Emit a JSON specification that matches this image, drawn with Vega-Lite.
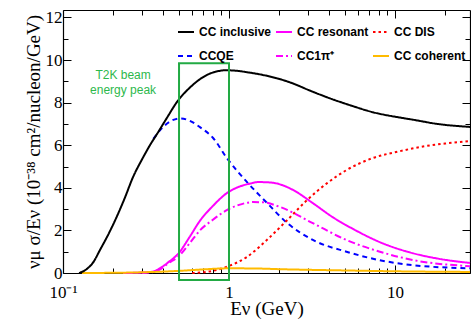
{
  "$schema": "https://vega.github.io/schema/vega-lite/v6.json",
  "width": 407,
  "height": 263,
  "autosize": {"type": "none"},
  "padding": {"left": 63, "top": 10, "right": 1, "bottom": 53},
  "background": "white",
  "config": {
    "view": {"stroke": null},
    "axis": {
      "domainColor": "black", "domainWidth": 1.2, "tickColor": "black", "tickWidth": 1,
      "labelFont": "Liberation Serif", "labelFontSize": 17, "labelColor": "black",
      "titleFont": "Liberation Serif", "titleFontSize": 19, "titleFontWeight": "normal", "titleColor": "black",
      "grid": false
    }
  },
  "datasets": {
    "curves": [
      {"series": "CCQE", "E": 0.35, "v": 6.3},
      {"series": "CCQE", "E": 0.4, "v": 6.85},
      {"series": "CCQE", "E": 0.45, "v": 7.15},
      {"series": "CCQE", "E": 0.507, "v": 7.26},
      {"series": "CCQE", "E": 0.58, "v": 7.15},
      {"series": "CCQE", "E": 0.668, "v": 6.85},
      {"series": "CCQE", "E": 0.8, "v": 6.35},
      {"series": "CCQE", "E": 0.97, "v": 5.4},
      {"series": "CCQE", "E": 1.28, "v": 4.28},
      {"series": "CCQE", "E": 1.69, "v": 3.3},
      {"series": "CCQE", "E": 2.24, "v": 2.35},
      {"series": "CCQE", "E": 3.2, "v": 1.55},
      {"series": "CCQE", "E": 5.1, "v": 1.0},
      {"series": "CCQE", "E": 8.1, "v": 0.6},
      {"series": "CCQE", "E": 12.8, "v": 0.37},
      {"series": "CCQE", "E": 28.3, "v": 0.22},

      {"series": "CC1π⁺", "E": 0.3, "v": 0},
      {"series": "CC1π⁺", "E": 0.35, "v": 0.05},
      {"series": "CC1π⁺", "E": 0.38, "v": 0.15},
      {"series": "CC1π⁺", "E": 0.43, "v": 0.45},
      {"series": "CC1π⁺", "E": 0.5, "v": 0.8},
      {"series": "CC1π⁺", "E": 0.58, "v": 1.4},
      {"series": "CC1π⁺", "E": 0.668, "v": 2.0},
      {"series": "CC1π⁺", "E": 0.8, "v": 2.5},
      {"series": "CC1π⁺", "E": 0.97, "v": 2.95},
      {"series": "CC1π⁺", "E": 1.15, "v": 3.2},
      {"series": "CC1π⁺", "E": 1.4, "v": 3.33},
      {"series": "CC1π⁺", "E": 1.6, "v": 3.32},
      {"series": "CC1π⁺", "E": 2.03, "v": 3.1},
      {"series": "CC1π⁺", "E": 3.2, "v": 2.34},
      {"series": "CC1π⁺", "E": 5.1, "v": 1.55},
      {"series": "CC1π⁺", "E": 8.1, "v": 1.0},
      {"series": "CC1π⁺", "E": 12.8, "v": 0.61},
      {"series": "CC1π⁺", "E": 28.3, "v": 0.32},

      {"series": "CC resonant", "E": 0.23, "v": 0},
      {"series": "CC resonant", "E": 0.3, "v": 0.02},
      {"series": "CC resonant", "E": 0.35, "v": 0.07},
      {"series": "CC resonant", "E": 0.38, "v": 0.2},
      {"series": "CC resonant", "E": 0.43, "v": 0.5},
      {"series": "CC resonant", "E": 0.5, "v": 0.95},
      {"series": "CC resonant", "E": 0.58, "v": 1.7},
      {"series": "CC resonant", "E": 0.668, "v": 2.45},
      {"series": "CC resonant", "E": 0.8, "v": 3.15},
      {"series": "CC resonant", "E": 0.97, "v": 3.75},
      {"series": "CC resonant", "E": 1.15, "v": 4.05},
      {"series": "CC resonant", "E": 1.34, "v": 4.2},
      {"series": "CC resonant", "E": 1.5, "v": 4.27},
      {"series": "CC resonant", "E": 1.7, "v": 4.26},
      {"series": "CC resonant", "E": 1.95, "v": 4.2},
      {"series": "CC resonant", "E": 2.43, "v": 3.9},
      {"series": "CC resonant", "E": 3.2, "v": 3.28},
      {"series": "CC resonant", "E": 4.2, "v": 2.63},
      {"series": "CC resonant", "E": 5.8, "v": 2.0},
      {"series": "CC resonant", "E": 8.1, "v": 1.45},
      {"series": "CC resonant", "E": 12.8, "v": 0.93},
      {"series": "CC resonant", "E": 18, "v": 0.68},
      {"series": "CC resonant", "E": 28.3, "v": 0.47},

      {"series": "CC DIS", "E": 0.6, "v": 0},
      {"series": "CC DIS", "E": 0.73, "v": 0.05},
      {"series": "CC DIS", "E": 0.85, "v": 0.15},
      {"series": "CC DIS", "E": 1.0, "v": 0.33},
      {"series": "CC DIS", "E": 1.28, "v": 0.75},
      {"series": "CC DIS", "E": 1.69, "v": 1.55},
      {"series": "CC DIS", "E": 2.24, "v": 2.48},
      {"series": "CC DIS", "E": 2.95, "v": 3.42},
      {"series": "CC DIS", "E": 3.9, "v": 4.22},
      {"series": "CC DIS", "E": 5.1, "v": 4.83},
      {"series": "CC DIS", "E": 7.36, "v": 5.4},
      {"series": "CC DIS", "E": 10.7, "v": 5.72},
      {"series": "CC DIS", "E": 15, "v": 5.95},
      {"series": "CC DIS", "E": 20, "v": 6.08},
      {"series": "CC DIS", "E": 28.3, "v": 6.2},

      {"series": "CC coherent", "E": 0.13, "v": 0},
      {"series": "CC coherent", "E": 0.25, "v": 0.02},
      {"series": "CC coherent", "E": 0.35, "v": 0.05},
      {"series": "CC coherent", "E": 0.5, "v": 0.1},
      {"series": "CC coherent", "E": 0.7, "v": 0.17},
      {"series": "CC coherent", "E": 1.0, "v": 0.22},
      {"series": "CC coherent", "E": 1.5, "v": 0.21},
      {"series": "CC coherent", "E": 2.0, "v": 0.18},
      {"series": "CC coherent", "E": 3.0, "v": 0.15},
      {"series": "CC coherent", "E": 5.0, "v": 0.12},
      {"series": "CC coherent", "E": 10, "v": 0.08},
      {"series": "CC coherent", "E": 28.3, "v": 0.05},

      {"series": "CC inclusive", "E": 0.125, "v": 0},
      {"series": "CC inclusive", "E": 0.137, "v": 0.15},
      {"series": "CC inclusive", "E": 0.152, "v": 0.5},
      {"series": "CC inclusive", "E": 0.167, "v": 1.08},
      {"series": "CC inclusive", "E": 0.19, "v": 1.9},
      {"series": "CC inclusive", "E": 0.211, "v": 2.65},
      {"series": "CC inclusive", "E": 0.235, "v": 3.5},
      {"series": "CC inclusive", "E": 0.264, "v": 4.5},
      {"series": "CC inclusive", "E": 0.3, "v": 5.35},
      {"series": "CC inclusive", "E": 0.334, "v": 6.0},
      {"series": "CC inclusive", "E": 0.37, "v": 6.55},
      {"series": "CC inclusive", "E": 0.42, "v": 7.25},
      {"series": "CC inclusive", "E": 0.493, "v": 8.1},
      {"series": "CC inclusive", "E": 0.58, "v": 8.7},
      {"series": "CC inclusive", "E": 0.668, "v": 9.1},
      {"series": "CC inclusive", "E": 0.76, "v": 9.35},
      {"series": "CC inclusive", "E": 0.85, "v": 9.47},
      {"series": "CC inclusive", "E": 0.95, "v": 9.52},
      {"series": "CC inclusive", "E": 1.1, "v": 9.5},
      {"series": "CC inclusive", "E": 1.28, "v": 9.43},
      {"series": "CC inclusive", "E": 1.6, "v": 9.3},
      {"series": "CC inclusive", "E": 1.95, "v": 9.14},
      {"series": "CC inclusive", "E": 2.43, "v": 8.9},
      {"series": "CC inclusive", "E": 3.0, "v": 8.6},
      {"series": "CC inclusive", "E": 4.06, "v": 8.2},
      {"series": "CC inclusive", "E": 5.5, "v": 7.85},
      {"series": "CC inclusive", "E": 7.36, "v": 7.55},
      {"series": "CC inclusive", "E": 10.7, "v": 7.3},
      {"series": "CC inclusive", "E": 12.8, "v": 7.2},
      {"series": "CC inclusive", "E": 18, "v": 7.0},
      {"series": "CC inclusive", "E": 28.3, "v": 6.86}
    ],
    "box": [{"x0": 0.5, "x1": 1.0, "y0": -0.33, "y1": 9.85}],
    "notes": [
      {"E": 0.23, "v": 9.28, "t": "T2K beam"},
      {"E": 0.23, "v": 8.58, "t": "energy peak"}
    ]
  },
  "layer": [
    {
      "data": {"name": "curves"},
      "mark": {"type": "line", "strokeWidth": 2, "interpolate": "monotone"},
      "encoding": {
        "x": {
          "field": "E", "type": "quantitative",
          "scale": {"type": "log", "domain": [0.1, 28.3], "nice": false},
          "axis": {
            "orient": "bottom", "title": "Eν (GeV)",
            "values": [0.1, 0.2, 0.3, 0.4, 0.5, 0.6, 0.7, 0.8, 0.9, 1, 2, 3, 4, 5, 6, 7, 8, 9, 10, 20],
            "labelExpr": "datum.value == 0.1 ? '10⁻¹' : (datum.value == 1 ? '1' : (datum.value == 10 ? '10' : ''))",
            "tickSize": {"condition": {"test": "datum.value == 0.1 || datum.value == 1 || datum.value == 10", "value": -8}, "value": -5},
            "labelPadding": 19, "labelFlush": false, "labelOverlap": false,
            "titleY": 41, "titleBaseline": "alphabetic"
          }
        },
        "y": {
          "field": "v", "type": "quantitative",
          "scale": {"domain": [0, 12.35], "nice": false, "zero": false},
          "axis": {
            "orient": "left", "title": "νμ σ/Eν (10⁻³⁸ cm²/nucleon/GeV)",
            "values": [0, 1, 2, 3, 4, 5, 6, 7, 8, 9, 10, 11, 12],
            "labelExpr": "datum.value % 2 == 0 ? datum.label : ''",
            "tickSize": {"condition": {"test": "datum.value % 2 == 0", "value": -8}, "value": -5},
            "labelPadding": 9, "labelOverlap": false,
            "titlePadding": 2
          }
        },
        "color": {
          "field": "series", "type": "nominal",
          "scale": {
            "domain": ["CC inclusive", "CCQE", "CC resonant", "CC1π⁺", "CC DIS", "CC coherent"],
            "range": ["#000000", "#0000ff", "#ff00ff", "#ff00ff", "#ff0000", "#ffbb00"]
          },
          "legend": {
            "orient": "none", "legendX": 114, "legendY": 13, "columns": 3, "title": null,
            "symbolType": "stroke", "symbolSize": 256, "symbolStrokeWidth": 2,
            "labelFont": "Liberation Sans", "labelFontWeight": "bold", "labelFontSize": 12, "labelColor": "black",
            "columnPadding": 0, "rowPadding": 9, "labelOffset": 4, "padding": 0
          }
        },
        "strokeDash": {
          "field": "series", "type": "nominal",
          "scale": {
            "domain": ["CC inclusive", "CCQE", "CC resonant", "CC1π⁺", "CC DIS", "CC coherent"],
            "range": [[1, 0], [5, 4], [1, 0], [7, 3, 2, 3], [2.5, 3], [1, 0]]
          },
          "legend": {
            "orient": "none", "legendX": 114, "legendY": 13, "columns": 3, "title": null,
            "symbolType": "stroke", "symbolSize": 256, "symbolStrokeWidth": 2,
            "labelFont": "Liberation Sans", "labelFontWeight": "bold", "labelFontSize": 12, "labelColor": "black",
            "columnPadding": 0, "rowPadding": 9, "labelOffset": 4, "padding": 0
          }
        }
      }
    },
    {
      "data": {"name": "box"},
      "mark": {"type": "rect", "fill": null, "fillOpacity": 0, "stroke": "#22aa44", "strokeWidth": 2},
      "encoding": {
        "x": {
          "field": "x0", "type": "quantitative",
          "axis": {
            "orient": "top", "title": null, "labels": false,
            "values": [0.1, 0.2, 0.3, 0.4, 0.5, 0.6, 0.7, 0.8, 0.9, 1, 2, 3, 4, 5, 6, 7, 8, 9, 10, 20],
            "tickSize": {"condition": {"test": "datum.value == 0.1 || datum.value == 1 || datum.value == 10", "value": -8}, "value": -5}
          }
        },
        "x2": {"field": "x1"},
        "y": {
          "field": "y0", "type": "quantitative",
          "axis": {
            "orient": "right", "title": null, "labels": false,
            "values": [0, 1, 2, 3, 4, 5, 6, 7, 8, 9, 10, 11, 12],
            "tickSize": {"condition": {"test": "datum.value % 2 == 0", "value": -8}, "value": -5}
          }
        },
        "y2": {"field": "y1"}
      }
    },
    {
      "data": {"name": "notes"},
      "mark": {"type": "text", "font": "Liberation Sans", "fontSize": 12, "color": "#2db84c", "align": "center", "baseline": "middle"},
      "encoding": {
        "x": {"field": "E", "type": "quantitative", "axis": null},
        "y": {"field": "v", "type": "quantitative", "axis": null},
        "text": {"field": "t"}
      }
    }
  ],
  "resolve": {"axis": {"x": "independent", "y": "independent"}}
}
